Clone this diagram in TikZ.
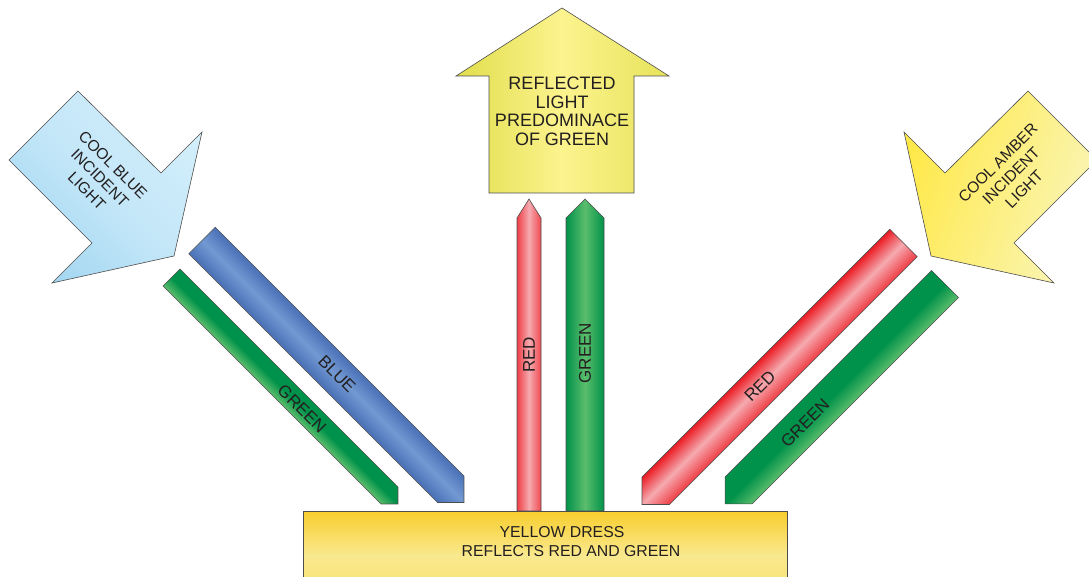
\documentclass[tikz,border=0pt]{standalone}
\usepackage{fontspec}
\setmainfont{Liberation Sans}
\definecolor{outl}{HTML}{4D4D4D}
\definecolor{txt}{HTML}{231F20}
\definecolor{bluedark}{HTML}{4870B6}
\definecolor{bluelight}{HTML}{7399D2}
\definecolor{reddark}{HTML}{EC1C24}
\definecolor{redlight}{HTML}{F5AAB0}
\definecolor{greendark}{HTML}{00924A}
\definecolor{greenlight}{HTML}{5BBD6C}
\definecolor{skyA}{HTML}{D2EEFB}
\definecolor{skyB}{HTML}{A6D8F2}
\definecolor{skyM}{HTML}{C4E7F8}
\definecolor{yelA}{HTML}{E0DE4C}
\definecolor{yelM}{HTML}{FCF38E}
\definecolor{yelB}{HTML}{E6E35A}
\definecolor{ambA}{HTML}{FFE94A}
\definecolor{ambB}{HTML}{FAF5B8}
\definecolor{dressA}{HTML}{F8CE2E}
\definecolor{dressM}{HTML}{F9E98E}
\definecolor{dressB}{HTML}{F8E06C}
\tikzset{
  outline/.style={draw=outl, line width=0.6pt, line join=miter},
  lbl/.style={text=txt, inner sep=0pt, align=center},
  toptext/.style={lbl, font=\fontsize{18}{18.6}\selectfont},
  sidetext/.style={lbl, font=\fontsize{15.6}{18.5}\selectfont},
  bartext/.style={lbl, font=\fontsize{17}{20}\selectfont},
  dresstext/.style={lbl, font=\fontsize{15.8}{19}\selectfont},
}
% diagonal bar: origin x, origin y, angle, length, half width, shading options
\newcommand{\diagbar}[6]{%
  \begin{scope}[transform canvas={shift={(#1,#2)},rotate=#3}]
    \path[outline,#6] (0,-#5) -- (#4-#5,-#5) -- (#4,0) -- (#4-#5,#5) -- (0,#5) -- cycle;
  \end{scope}}
\begin{document}
\begin{tikzpicture}[x=1pt,y=-1pt]
\useasboundingbox (0,0) rectangle (1089,577);
\clip (0,0) rectangle (1089,577);

% incident cool blue arrow
\path[outline, top color=skyA, bottom color=skyB, middle color=skyM, shading angle=-45]
  (78,91) -- (9,160) -- (92,243) -- (52,283) -- (174,256) -- (202,132) -- (161,173) -- cycle;
\node[sidetext, rotate=-45] (bluetxt) at (100,178) {COOL BLUE\\INCIDENT\\LIGHT};

% reflected light arrow
\path[outline, left color=yelA, right color=yelB, middle color=yelM]
  (562,8) -- (456,76) -- (489,76) -- (489,193) -- (634,193) -- (634,76) -- (669,76) -- cycle;
\node[toptext] (toptxt) at (562,111.5) {REFLECTED\\LIGHT\\PREDOMINACE\\OF GREEN};

% incident cool amber arrow
\path[outline, left color=ambA, right color=ambB, shading angle=70]
  (1028,91) -- (1097,160) -- (1014,243) -- (1054,283) -- (931,256) -- (904,132) -- (945,173) -- cycle;
\node[sidetext, rotate=45] (ambtxt) at (1011,176) {COOL AMBER\\INCIDENT\\LIGHT};

% diagonal incident bars
\diagbar{202}{240.5}{-45}{370.5}{18.7}{top color=bluedark, bottom color=bluedark, middle color=bluelight}
\diagbar{171.5}{277.5}{-45}{320.3}{12}{top color=greendark, bottom color=greenlight, middle color=greendark}
\diagbar{903.5}{243}{-135}{369.8}{19.4}{top color=reddark!85!white, bottom color=reddark, middle color=redlight}
\diagbar{945}{284}{-135}{311}{19.1}{top color=greenlight, bottom color=greendark, middle color=greendark}

\node[bartext, rotate=-45] (bluelbl) at (337,374) {BLUE};
\node[bartext, rotate=-45] (lgreenlbl) at (302,409) {GREEN};
\node[bartext, rotate=45] (rredlbl) at (760,386) {RED};
\node[bartext, rotate=45] (rgreenlbl) at (805,423) {GREEN};

% vertical reflected bars
\path[outline, left color=reddark!85!white, right color=reddark!80!white, middle color=redlight]
  (517,511) -- (517,218) -- (529,199) -- (541,218) -- (541,511) -- cycle;
\path[outline, left color=greendark, right color=greendark, middle color=greenlight]
  (566,511) -- (566,218) -- (585,199) -- (604,218) -- (604,511) -- cycle;
\node[bartext, rotate=90] (vredlbl) at (529,355) {RED};
\node[bartext, rotate=90] (vgreenlbl) at (585,353) {GREEN};

% yellow dress
\path[outline, top color=dressA, bottom color=dressB, middle color=dressM]
  (303,511) rectangle (787,600);
\node[dresstext] (dresstxt) at (562,542) {YELLOW DRESS\\\hspace*{18pt}REFLECTS RED AND GREEN};
\end{tikzpicture}
\end{document}
